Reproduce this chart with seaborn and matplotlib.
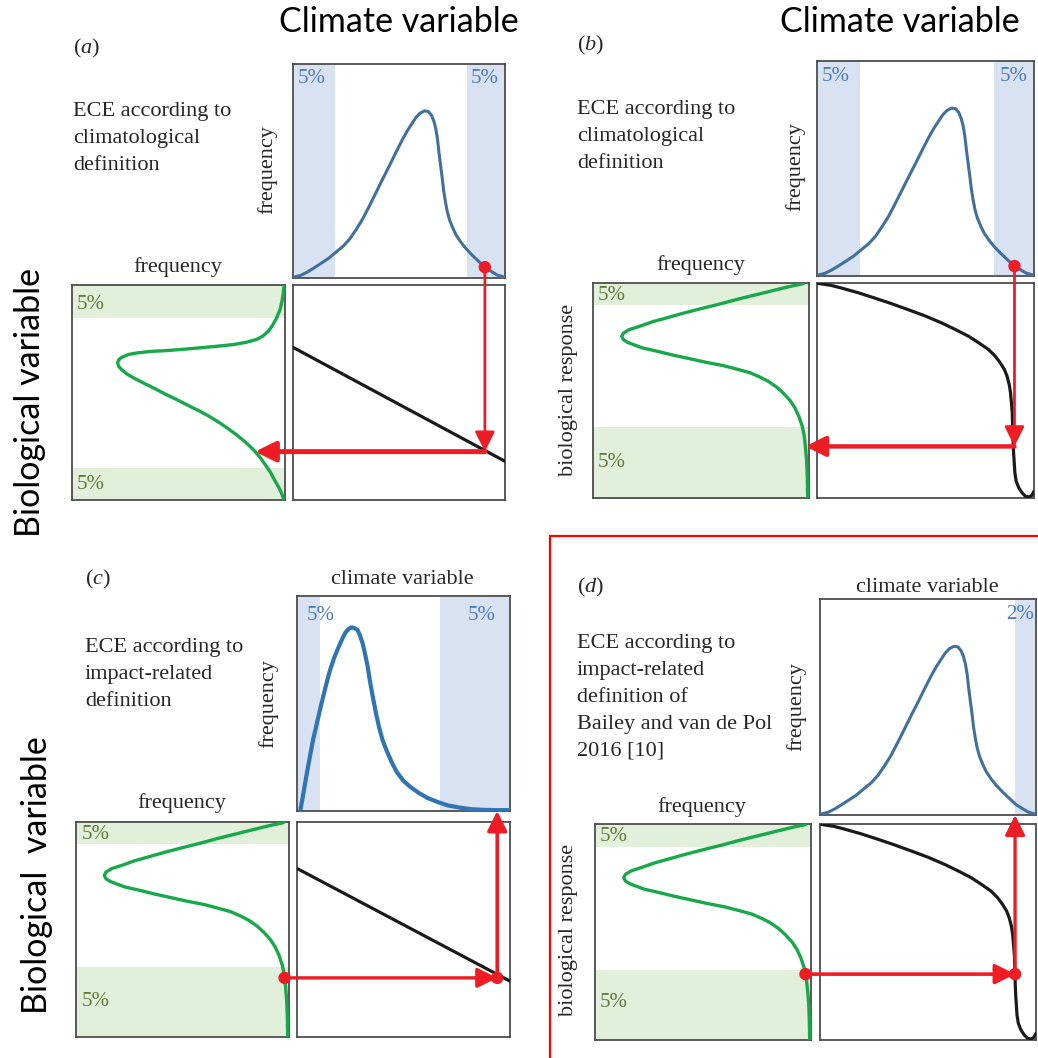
import numpy as np
import matplotlib
matplotlib.use("Agg")
import matplotlib.pyplot as plt
import seaborn as sns
from matplotlib.patches import ConnectionPatch, Rectangle
from matplotlib.lines import Line2D

# ------------------------------------------------------------------ data
# climate-variable distribution used in panels a, b, d (normalised units)
clim_x = [0.003, 0.037, 0.068, 0.099, 0.130, 0.168, 0.204, 0.238, 0.269, 0.299,
          0.330, 0.361, 0.392, 0.423, 0.454, 0.485, 0.515, 0.539, 0.562, 0.580,
          0.599, 0.620, 0.639, 0.654, 0.665, 0.673, 0.681, 0.688, 0.696, 0.704,
          0.711, 0.719, 0.728, 0.739, 0.755, 0.770, 0.793, 0.816, 0.843, 0.870,
          0.909, 0.935, 0.963, 1.0]
clim_freq = [0.004, 0.0125, 0.028, 0.047, 0.067, 0.092, 0.122, 0.150, 0.184, 0.228,
             0.278, 0.338, 0.400, 0.4625, 0.523, 0.586, 0.645, 0.6875, 0.723, 0.750,
             0.770, 0.781, 0.778, 0.759, 0.731, 0.700, 0.653, 0.591, 0.528, 0.466,
             0.406, 0.356, 0.309, 0.270, 0.231, 0.200, 0.166, 0.1375, 0.109, 0.083,
             0.047, 0.031, 0.014, 0.003]
# right-skewed climate distribution of panel c
clim_c_x = [0.016, 0.027, 0.043, 0.059, 0.075, 0.095, 0.115, 0.135, 0.155, 0.175,
            0.196, 0.212, 0.228, 0.244, 0.256, 0.269, 0.284, 0.295, 0.308, 0.319,
            0.332, 0.343, 0.356, 0.370, 0.385, 0.401, 0.420, 0.444, 0.468, 0.500,
            0.532, 0.572, 0.612, 0.660, 0.708, 0.764, 0.821, 0.885, 0.933, 1.0]
clim_c_freq = [0.006, 0.065, 0.158, 0.244, 0.329, 0.415, 0.500, 0.581, 0.655, 0.714,
               0.764, 0.800, 0.831, 0.848, 0.854, 0.851, 0.842, 0.818, 0.780, 0.733,
               0.671, 0.601, 0.531, 0.458, 0.391, 0.332, 0.283, 0.228, 0.182, 0.140,
               0.112, 0.084, 0.061, 0.042, 0.026, 0.016, 0.008, 0.005, 0.004, 0.004]
# biological-variable distribution of panel a (frequency, biological value)
bio_a_freq = [0.005, 0.008, 0.014, 0.023, 0.039, 0.058, 0.078, 0.105, 0.133, 0.180,
              0.242, 0.320, 0.398, 0.477, 0.555, 0.633, 0.695, 0.734, 0.766, 0.781,
              0.786, 0.781, 0.766, 0.742, 0.711, 0.664, 0.617, 0.563, 0.508, 0.453,
              0.398, 0.352, 0.305, 0.266, 0.227, 0.195, 0.164, 0.141, 0.117, 0.094,
              0.070, 0.052, 0.031, 0.016, 0.005]
bio_a_y = [0.995, 0.964, 0.925, 0.886, 0.848, 0.813, 0.785, 0.762, 0.747, 0.734,
           0.723, 0.715, 0.708, 0.701, 0.695, 0.691, 0.684, 0.677, 0.664, 0.652,
           0.638, 0.622, 0.605, 0.586, 0.568, 0.544, 0.521, 0.493, 0.467, 0.439,
           0.412, 0.387, 0.358, 0.331, 0.303, 0.277, 0.249, 0.226, 0.198, 0.166,
           0.132, 0.098, 0.062, 0.031, 0.0]
# biological-variable distribution of panels b, c, d
bio_freq = [0.026, 0.088, 0.150, 0.243, 0.321, 0.414, 0.507, 0.584, 0.662, 0.724,
            0.786, 0.833, 0.859, 0.867, 0.859, 0.840, 0.809, 0.771, 0.709, 0.631,
            0.553, 0.476, 0.398, 0.336, 0.274, 0.228, 0.189, 0.150, 0.119, 0.088,
            0.065, 0.047, 0.031, 0.022, 0.016, 0.011, 0.008, 0.006]
bio_y = [0.997, 0.984, 0.969, 0.946, 0.927, 0.902, 0.879, 0.859, 0.837, 0.820,
         0.798, 0.783, 0.767, 0.752, 0.736, 0.724, 0.712, 0.698, 0.684, 0.665,
         0.648, 0.631, 0.616, 0.600, 0.583, 0.563, 0.543, 0.516, 0.488, 0.454,
         0.419, 0.380, 0.333, 0.287, 0.233, 0.171, 0.101, 0.0]
# linear climate -> biology responses (panels a, c)
lin_a_x = [0.0, 1.0]
lin_a_y = [0.71, 0.18]
lin_c_x = [0.0, 1.0]
lin_c_y = [0.784, 0.26]
# non-linear response (panels b, d)
resp_x = [0.006, 0.065, 0.111, 0.189, 0.266, 0.343, 0.420, 0.498, 0.575, 0.637,
          0.699, 0.745, 0.791, 0.822, 0.845, 0.864, 0.876, 0.886, 0.892, 0.896,
          0.900, 0.901, 0.903, 0.904, 0.906, 0.909, 0.912, 0.918, 0.930, 0.946,
          0.961, 0.977, 0.989, 1.0]
resp_y = [0.998, 0.989, 0.977, 0.955, 0.930, 0.904, 0.876, 0.847, 0.814, 0.784,
          0.752, 0.722, 0.690, 0.659, 0.628, 0.597, 0.566, 0.527, 0.488, 0.442,
          0.395, 0.349, 0.302, 0.256, 0.209, 0.163, 0.116, 0.078, 0.047, 0.023,
          0.008, 0.005, 0.011, 0.031]

# percentile bands (climate low tail end, climate high tail start, bio low, bio high)
clim_low_band = [0.20, 0.20, 0.11, None]
clim_high_band = [0.82, 0.816, 0.67, 0.903]
clim_low_label = ["5%", "5%", "5%", None]
clim_high_label = ["5%", "5%", "5%", "2%"]
bio_low_band = [0.151, 0.329, 0.327, 0.326]
bio_high_band = [0.848, 0.896, 0.896, 0.895]
bio_labels = ["5%", "5%", "5%", "5%"]

# extreme events (climate value, biological value, direction of reasoning)
event_climate = [0.905, 0.91, 0.94, 0.903]
event_response = [0.225, 0.24, 0.275, 0.305]
event_flow = ["down", "down", "up", "up"]

panel_letters = ["a", "b", "c", "d"]
ece_texts = ["ECE according to\nclimatological\ndefinition",
             "ECE according to\nclimatological\ndefinition",
             "ECE according to\nimpact-related\ndefinition",
             "ECE according to\nimpact-related\ndefinition of\nBailey and van de Pol\n2016 [10]"]

# ------------------------------------------------------------------ style
sns.set_theme(style="white")
plt.rcParams["font.family"] = ["Liberation Serif", "DejaVu Serif"]
plt.rcParams["mathtext.fontset"] = "custom"
plt.rcParams["mathtext.rm"] = "Liberation Serif"
plt.rcParams["mathtext.it"] = "Liberation Serif:italic"

W, H = 1038, 1058
fig = plt.figure(figsize=(W / 100, H / 100), dpi=100)
fig.patch.set_facecolor("white")

RED = "#ee1c25"
BLUE = "#41709d"
BLUE_C = "#2f74b5"
BLUE_SHADE = "#d9e2f3"
BLUE_TXT = "#4a7cc0"
GREEN = "#17a84a"
GREEN_SHADE = "#e2efda"
GREEN_TXT = "#5e7b3a"
TXT = "#262626"
SERIF = ["Liberation Serif", "DejaVu Serif"]
SANS = ["Lato", "DejaVu Sans"]


def fx(px):
    return px / W


def fy(py):
    return 1 - py / H


def add_ax(l, t, r, b):
    ax = fig.add_axes([l / W, 1 - b / H, (r - l) / W, (b - t) / H])
    ax.set_xticks([])
    ax.set_yticks([])
    for s in ax.spines.values():
        s.set_color("#4d4d4d")
        s.set_linewidth(1.3)
    ax.set_facecolor("white")
    return ax


def crossing(xs, ys, y0):
    """x where the curve (in list order) last crosses level y0"""
    xs = np.asarray(xs)
    ys = np.asarray(ys)
    res = None
    for i in range(len(ys) - 1):
        a, b = ys[i] - y0, ys[i + 1] - y0
        if a == 0:
            res = xs[i]
        elif a * b < 0:
            t = a / (a - b)
            res = xs[i] + t * (xs[i + 1] - xs[i])
    return res


boxes = [
    # top, green, right  (l, t, r, b) in pixels
    [(293, 64, 505, 278), (72, 285, 285, 500), (293, 285, 505, 500)],
    [(817, 61, 1034, 276), (593, 283, 809, 498), (817, 283, 1034, 498)],
    [(297, 596, 510, 811), (76, 822, 289, 1037), (297, 822, 510, 1037)],
    [(820, 599, 1036, 815), (595, 824, 811, 1040), (820, 824, 1036, 1040)],
]
clim_curves = [(clim_x, clim_freq), (clim_x, clim_freq), (clim_c_x, clim_c_freq), (clim_x, clim_freq)]
bio_curves = [(bio_a_freq, bio_a_y), (bio_freq, bio_y), (bio_freq, bio_y), (bio_freq, bio_y)]
resp_curves = [(lin_a_x, lin_a_y), (resp_x, resp_y), (lin_c_x, lin_c_y), (resp_x, resp_y)]
blue_cols = [BLUE, BLUE, BLUE_C, BLUE]
blue_lws = [2.2, 2.2, 3.0, 2.2]
clim_label_x = [(0.02, 0.84), (0.02, 0.84), (0.045, 0.80), (None, 0.862)]
clim_label_y = [0.93, 0.926, 0.91, 0.926]
bio_label_pos = [((0.02, 0.907), (0.02, 0.074)), ((0.023, 0.944), (0.023, 0.167)),
                 ((0.028, 0.944), (0.028, 0.167)), ((0.023, 0.944), (0.023, 0.172))]
h_lw = [3.6, 3.2, 2.4, 2.6]
v_lw = [2.0, 2.0, 2.6, 2.4]

for i in range(4):
    tb, gb, rb = boxes[i]
    axT = add_ax(*tb)
    axG = add_ax(*gb)
    axR = add_ax(*rb)

    # --- climate distribution
    if clim_low_band[i] is not None:
        axT.axvspan(0, clim_low_band[i], color=BLUE_SHADE, lw=0, zorder=0)
    axT.axvspan(clim_high_band[i], 1, color=BLUE_SHADE, lw=0, zorder=0)
    cx, cy = clim_curves[i]
    sns.lineplot(x=cx, y=cy, ax=axT, sort=False, estimator=None, color=blue_cols[i],
                 linewidth=blue_lws[i], legend=False, zorder=3)
    axT.set_xlim(0, 1)
    axT.set_ylim(0, 1)
    lx0, lx1 = clim_label_x[i]
    if lx0 is not None:
        axT.text(lx0, clim_label_y[i], clim_low_label[i], transform=axT.transAxes,
                 color=BLUE_TXT, fontsize=15, va="center", ha="left", family=SERIF)
    axT.text(lx1, clim_label_y[i], clim_high_label[i], transform=axT.transAxes,
             color=BLUE_TXT, fontsize=15, va="center", ha="left", family=SERIF, clip_on=True)

    # --- biological distribution (frequency axis reversed)
    axG.axhspan(0, bio_low_band[i], color=GREEN_SHADE, lw=0, zorder=0)
    axG.axhspan(bio_high_band[i], 1, color=GREEN_SHADE, lw=0, zorder=0)
    bf, by = bio_curves[i]
    sns.lineplot(x=bf, y=by, ax=axG, sort=False, estimator=None, color=GREEN,
                 linewidth=2.4, legend=False, zorder=3)
    axG.set_xlim(1, 0)
    axG.set_ylim(0, 1)
    (p1x, p1y), (p2x, p2y) = bio_label_pos[i]
    axG.text(p1x, p1y, bio_labels[i], transform=axG.transAxes, color=GREEN_TXT,
             fontsize=15, va="center", ha="left", family=SERIF)
    axG.text(p2x, p2y, bio_labels[i], transform=axG.transAxes, color=GREEN_TXT,
             fontsize=15, va="center", ha="left", family=SERIF)

    # --- response curve
    rx, ry = resp_curves[i]
    sns.lineplot(x=rx, y=ry, ax=axR, sort=False, estimator=None, color="#1a1a1a",
                 linewidth=2.3, legend=False, zorder=3)
    axR.set_xlim(0, 1)
    axR.set_ylim(0, 1)

    # --- extreme-event arrows
    xe, ye = event_climate[i], event_response[i]
    fe_bio = crossing(bf, by, ye)
    arrow_kw = dict(arrowstyle="-|>", color=RED, mutation_scale=30, zorder=20,
                    shrinkA=0, shrinkB=0)
    if event_flow[i] == "down":
        fe_clim = float(np.interp(xe, cx, cy))
        sns.scatterplot(x=[xe], y=[fe_clim], ax=axT, color=RED, s=80, edgecolor="none",
                        zorder=10, clip_on=False, legend=False)
        cp = ConnectionPatch((xe, fe_clim), (xe, ye), coordsA=axT.transData,
                             coordsB=axR.transData, lw=v_lw[i], **arrow_kw)
        fig.add_artist(cp)
        cp = ConnectionPatch((xe, ye), (fe_bio, ye), coordsA=axR.transData,
                             coordsB=axG.transData, lw=h_lw[i], **arrow_kw)
        fig.add_artist(cp)
    else:
        sns.scatterplot(x=[fe_bio], y=[ye], ax=axG, color=RED, s=80, edgecolor="none",
                        zorder=10, clip_on=False, legend=False)
        sns.scatterplot(x=[xe], y=[ye], ax=axR, color=RED, s=80, edgecolor="none",
                        zorder=10, clip_on=False, legend=False)
        cp = ConnectionPatch((fe_bio, ye), (xe, ye), coordsA=axG.transData,
                             coordsB=axR.transData, lw=h_lw[i], **arrow_kw)
        fig.add_artist(cp)
        cp = ConnectionPatch((xe, ye), (xe, 0.0), coordsA=axR.transData,
                             coordsB=axT.transData, lw=v_lw[i], **arrow_kw)
        fig.add_artist(cp)

# ------------------------------------------------------------------ text
letter_pos = [(73, 48), (577, 45), (85, 579), (577, 587)]
ece_pos = [(73, 102), (577, 100), (85, 638), (577, 634)]
vfreq_pos = [(267, 170), (795, 167), (268, 704), (796, 707)]
hfreq_pos = [(178, 267), (701, 265), (182, 803), (702, 807)]
for i in range(4):
    x, y = letter_pos[i]
    fig.text(fx(x), fy(y), "($\\mathit{" + panel_letters[i] + "}$)", fontsize=16,
             color=TXT, va="center", ha="left", family=SERIF)
    x, y = ece_pos[i]
    fig.text(fx(x), fy(y), ece_texts[i], fontsize=16, color=TXT, va="top", ha="left",
             family=SERIF, linespacing=1.57)
    x, y = vfreq_pos[i]
    fig.text(fx(x), fy(y), "frequency", fontsize=16, color=TXT, va="center",
             ha="center", rotation=90, family=SERIF)
    x, y = hfreq_pos[i]
    fig.text(fx(x), fy(y), "frequency", fontsize=16, color=TXT, va="center",
             ha="center", family=SERIF)

fig.text(fx(402), fy(579), "climate variable", fontsize=16, color=TXT, va="center",
         ha="center", family=SERIF)
fig.text(fx(927), fy(587), "climate variable", fontsize=16, color=TXT, va="center",
         ha="center", family=SERIF)
fig.text(fx(568), fy(390), "biological response", fontsize=16, color=TXT, va="center",
         ha="center", rotation=90, family=SERIF)
fig.text(fx(568), fy(930), "biological response", fontsize=16, color=TXT, va="center",
         ha="center", rotation=90, family=SERIF)

# panel (a) original label, mostly covered by the overlay title
fig.text(fx(390), fy(46), "climate variable", fontsize=16, color=TXT, va="center",
         ha="center", family=SERIF, zorder=1)
fig.add_artist(Rectangle((fx(300), fy(50)), fx(180), 50 / H, transform=fig.transFigure,
                         facecolor="white", edgecolor="none", zorder=2))

# overlay titles (sans)
fig.text(fx(399), fy(22), "Climate variable", fontsize=24.5, color="black", va="center",
         ha="center", family=SANS, zorder=5)
fig.text(fx(900), fy(22), "Climate variable", fontsize=24.5, color="black", va="center",
         ha="center", family=SANS, zorder=5)
fig.text(fx(30), fy(402), "Biological variable", fontsize=24.5, color="black", va="center",
         ha="center", rotation=90, family=SANS, zorder=5)
fig.text(fx(37), fy(875), "Biological  variable", fontsize=24.5, color="black", va="center",
         ha="center", rotation=90, family=SANS, zorder=5)

# red frame around panel (d)
fig.add_artist(Line2D([fx(550), fx(550)], [fy(536), fy(1058)], transform=fig.transFigure,
                      color="#ff0000", lw=1.6, zorder=6))
fig.add_artist(Line2D([fx(550), fx(1038)], [fy(536), fy(536)], transform=fig.transFigure,
                      color="#ff0000", lw=1.6, zorder=6))

fig.savefig("out.png", dpi=100, facecolor="white")
